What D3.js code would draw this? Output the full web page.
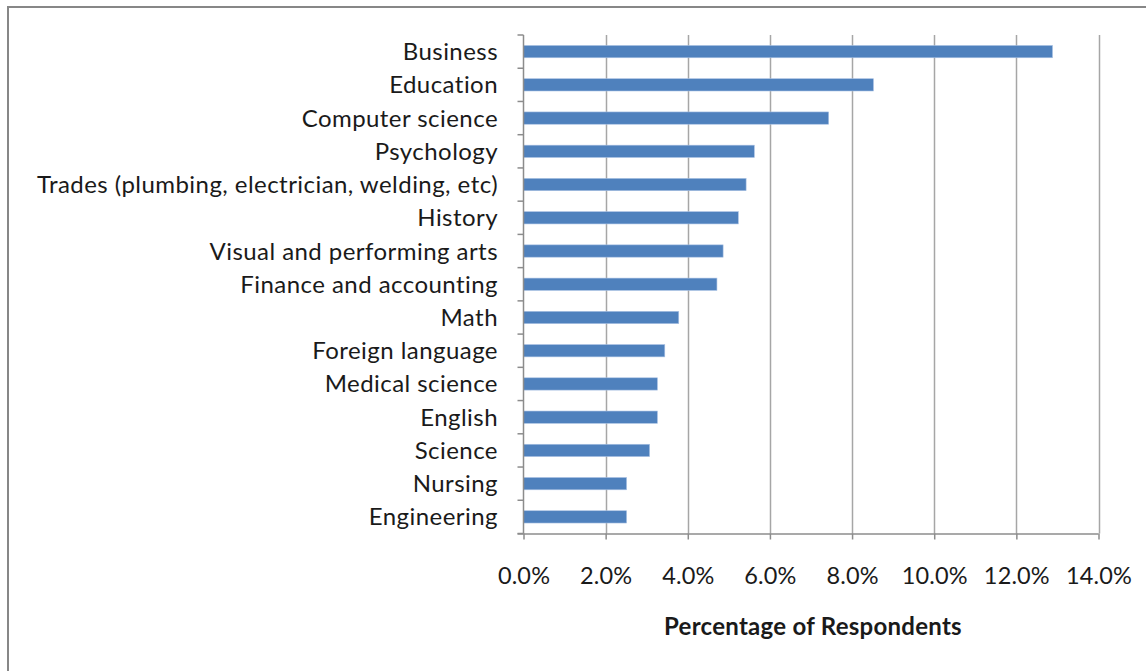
<!DOCTYPE html>
<html><head><meta charset="utf-8">
<script src="https://cdn.jsdelivr.net/npm/d3@7"></script>
<style>
html,body{margin:0;padding:0;background:#fff;}
svg{display:block;}
text{font-family:"Lato","Open Sans",sans-serif;fill:#1a1a1a;}
</style></head>
<body>
<svg id="chart" width="1146" height="671"></svg>
<script>
const categories = ["Business","Education","Computer science","Psychology","Trades (plumbing, electrician, welding, etc)","History","Visual and performing arts","Finance and accounting","Math","Foreign language","Medical science","English","Science","Nursing","Engineering"];
const values = [0.1288,0.0852,0.0743,0.0562,0.0542,0.0523,0.0486,0.0471,0.0378,0.0344,0.0326,0.0326,0.0307,0.0251,0.0251];
const xTicks = [0,0.02,0.04,0.06,0.08,0.10,0.12,0.14];
const xTitle = "Percentage of Respondents";

(function(){
const svg = d3.select("#chart");
function fitSpacing(sel, refNode, target){
  const w = refNode.getComputedTextLength();
  const n = refNode.textContent.length;
  const ls = (target - w)/n;
  sel.attr("letter-spacing", ls.toFixed(2));
}
// frame
svg.append("rect").attr("x",8).attr("y",7).attr("width",1200).attr("height",700)
  .attr("fill","none").attr("stroke","#878787").attr("stroke-width",2);

const pLeft=523.5, pRight=1098.5, pTop=35, pBottom=533.5;
const x = d3.scaleLinear().domain([0,0.14]).range([pLeft,pRight]);
const y = d3.scaleBand().domain(categories).range([pTop,pBottom]).paddingInner(0.63).paddingOuter(0.315);

// gridlines
svg.append("g").selectAll("line").data(xTicks.slice(1)).join("line")
  .attr("x1",d=>Math.round(x(d))+0.5).attr("x2",d=>Math.round(x(d))+0.5)
  .attr("y1",pTop).attr("y2",pBottom)
  .attr("stroke","#a6a6a6").attr("stroke-width",1.5);

// bars
svg.append("g").selectAll("rect").data(categories).join("rect")
  .attr("x",x(0)).attr("y",d=>y(d))
  .attr("width",(d,i)=>x(values[i])-x(0)).attr("height",y.bandwidth())
  .attr("fill","#4f81bd").attr("stroke","#a9c1e3").attr("stroke-width",0.6);

// x axis
const xAxis = d3.axisBottom(x).tickValues(xTicks).tickSize(6).tickPadding(0)
  .tickFormat(d=>(d*100).toFixed(1)+"%");
const gx = svg.append("g").attr("transform",`translate(0,${pBottom})`).call(xAxis);
gx.select(".domain").attr("stroke","#8c8c8c").attr("stroke-width",1.5).attr("d",`M${pLeft-6},0.5H${pRight}`);
gx.selectAll(".tick line").attr("stroke","#8c8c8c").attr("stroke-width",1.5);
const tt = gx.selectAll(".tick text").attr("font-size",23.5).attr("font-family",null).attr("fill","#1a1a1a")
  .attr("y",50).attr("dy",null);
fitSpacing(tt, tt.nodes()[tt.size()-1], 66);

// y axis (category boundaries ticks)
const bounds = d3.range(categories.length+1).map(i=>pTop+i*(pBottom-pTop)/categories.length);
svg.append("line").attr("x1",pLeft).attr("x2",pLeft).attr("y1",pTop).attr("y2",pBottom)
  .attr("stroke","#8c8c8c").attr("stroke-width",1.5);
svg.append("g").selectAll("line").data(bounds).join("line")
  .attr("x1",pLeft-6).attr("x2",pLeft).attr("y1",d=>d).attr("y2",d=>d)
  .attr("stroke","#8c8c8c").attr("stroke-width",1.5);
const cl = svg.append("g").selectAll("text").data(categories).join("text")
  .attr("x",498).attr("y",d=>y(d)+y.bandwidth()/2+8.5)
  .attr("text-anchor","end").attr("font-size",24).text(d=>d);
fitSpacing(cl, cl.nodes()[4], 461);

// title
const ti = svg.append("text").attr("x",813).attr("y",635).attr("text-anchor","middle")
  .attr("font-size",24).attr("font-weight","bold").text(xTitle);
fitSpacing(ti, ti.node(), 298);
})();
</script>
</body></html>
